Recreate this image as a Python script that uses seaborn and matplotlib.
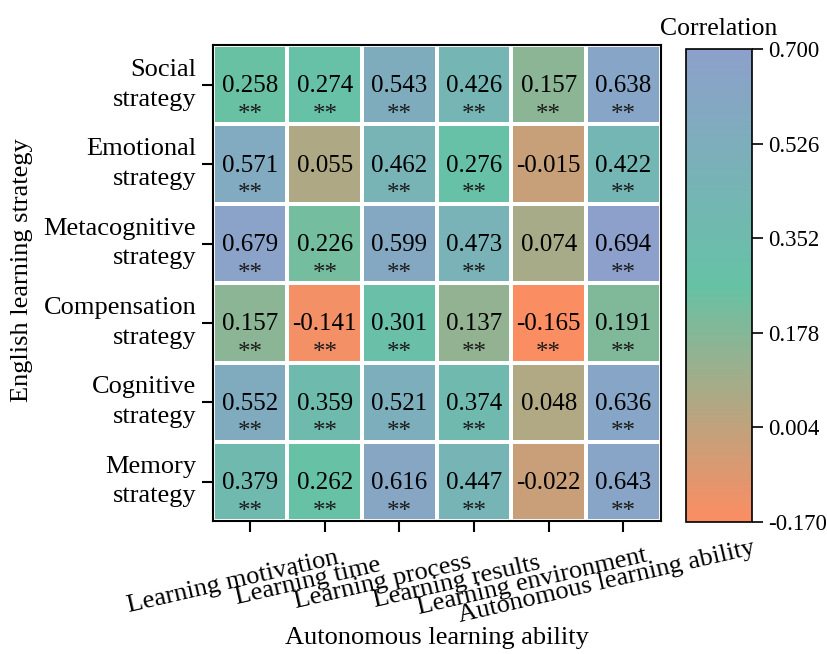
import numpy as np
import pandas as pd
import matplotlib
matplotlib.use("Agg")
import matplotlib.pyplot as plt
from matplotlib.colors import LinearSegmentedColormap
from matplotlib.transforms import ScaledTranslation
import seaborn as sns

strategies = ["Social\nstrategy", "Emotional\nstrategy", "Metacognitive\nstrategy",
              "Compensation\nstrategy", "Cognitive\nstrategy", "Memory\nstrategy"]
abilities = ["Learning motivation", "Learning time", "Learning process",
             "Learning results", "Learning environment", "Autonomous learning ability"]

social = [0.258, 0.274, 0.543, 0.426, 0.157, 0.638]
emotional = [0.571, 0.055, 0.462, 0.276, -0.015, 0.422]
metacognitive = [0.679, 0.226, 0.599, 0.473, 0.074, 0.694]
compensation = [0.157, -0.141, 0.301, 0.137, -0.165, 0.191]
cognitive = [0.552, 0.359, 0.521, 0.374, 0.048, 0.636]
memory = [0.379, 0.262, 0.616, 0.447, -0.022, 0.643]

significance = [
    ["**", "**", "**", "**", "**", "**"],
    ["**", "", "**", "**", "", "**"],
    ["**", "**", "**", "**", "", "**"],
    ["**", "**", "**", "**", "**", "**"],
    ["**", "**", "**", "**", "", "**"],
    ["**", "**", "**", "**", "", "**"],
]

cbar_ticks = [-0.170, 0.004, 0.178, 0.352, 0.526, 0.700]

corr = pd.DataFrame([social, emotional, metacognitive, compensation, cognitive, memory],
                    index=strategies, columns=abilities)

sns.set_theme(style="white")
plt.rcParams["font.family"] = ["Liberation Serif", "DejaVu Serif"]
plt.rcParams["text.color"] = "black"
plt.rcParams["axes.labelcolor"] = "black"
plt.rcParams["xtick.color"] = "black"
plt.rcParams["ytick.color"] = "black"

cmap = LinearSegmentedColormap.from_list("set2_corr", ["#FC8D62", "#66C2A5", "#8DA0CB"])

fig = plt.figure(figsize=(8.28, 6.54), dpi=100)
ax = fig.add_axes([0.257, 0.203, 0.541, 0.728])
cax = fig.add_axes([0.8285, 0.2018, 0.0797, 0.7232])

sns.heatmap(corr, ax=ax, cbar_ax=cax, cmap=cmap, vmin=-0.17, vmax=0.70,
            linewidths=1.5, linecolor="white", annot=False,
            cbar_kws={"ticks": cbar_ticks})

for i in range(corr.shape[0]):
    for j in range(corr.shape[1]):
        ax.text(j + 0.5, i + 0.52, f"{corr.iat[i, j]:.3f}", ha="center", va="center",
                fontsize=18, color="black")
        if significance[i][j]:
            ax.text(j + 0.5, i + 0.88, significance[i][j], ha="center", va="center",
                    fontsize=18, color="#1a1a1a")

for s in ax.spines.values():
    s.set_visible(True)
    s.set_color("black")
    s.set_linewidth(1.5)

ax.tick_params(axis="both", which="both", length=8, width=1.5, color="black",
               bottom=True, left=True, direction="out", labelsize=19, pad=4)
ax.set_yticklabels(strategies, rotation=0, ha="right", linespacing=1.45)
ax.set_xticklabels(abilities, rotation=13)
shift = ScaledTranslation(-17 / 100, -44 / 100, fig.dpi_scale_trans)
for lbl in ax.get_xticklabels():
    lbl.set_rotation_mode("anchor")
    lbl.set_ha("center")
    lbl.set_va("center")
    lbl.set_transform(lbl.get_transform() + shift)
ax.set_xlabel("Autonomous learning ability", fontsize=19)
ax.xaxis.set_label_coords(0.5, -0.222)
ax.set_ylabel("English learning strategy", fontsize=19)
ax.yaxis.set_label_coords(-0.402, 0.527)

cbar = ax.collections[0].colorbar
cbar.outline.set_visible(True)
cbar.outline.set_edgecolor("black")
cbar.outline.set_linewidth(1.2)
cbar.ax.tick_params(length=8, width=1.2, color="black", labelsize=16.5, right=True, direction="out")
cbar.ax.set_yticklabels([f"{t:.3f}" for t in cbar_ticks])
cbar.ax.set_title("Correlation", fontsize=18.5, pad=10)

fig.savefig("out.png", dpi=100)
